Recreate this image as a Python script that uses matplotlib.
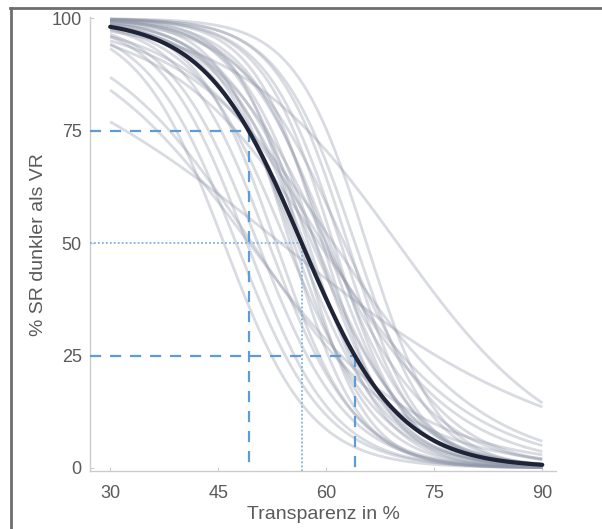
import numpy as np
import matplotlib
matplotlib.use("Agg")
import matplotlib.pyplot as plt
from matplotlib.lines import Line2D

plt.rcParams['font.family'] = ['Liberation Sans', 'DejaVu Sans']

# Individual psychometric fits (midpoint in %, slope scale in %)
subj_mid = [53.7, 49.7, 49.3,
            45.8, 47.5, 49.0, 50.5, 52.0, 53.0,
            54.5, 55.5, 56.0, 57.0, 57.5, 58.0, 58.5,
            55.0, 56.5, 59.5, 58.5, 60.5,
            59.0, 61.0, 59.5,
            60.0, 61.0, 62.0, 63.0, 64.0, 65.6,
            69.9, 60.0, 62.5]
subj_slope = [19.6, 10.4, 11.6,
              6.0, 6.2, 6.0, 6.2, 6.0, 5.5,
              6.5, 5.5, 6.2, 6.0, 5.2, 6.8, 5.5,
              4.8, 4.5, 4.8, 6.5, 6.0,
              10.5, 10.5, 9.3,
              5.5, 5.0, 5.2, 5.0, 5.3, 5.0,
              11.3, 7.5, 7.0]
# Group fit
mean_mid = 56.6
mean_slope = 6.7
thresholds = [75, 50, 25]
x_ticks = [30, 45, 60, 75, 90]
y_ticks = [0, 25, 50, 75, 100]

fig = plt.figure(figsize=(6.02, 5.29), dpi=100)
ax = fig.add_axes([0.1495, 0.1096, 0.774, 0.858])

x = np.linspace(30, 90, 400)

def logistic(xx, m, s):
    return 100.0 / (1.0 + np.exp((xx - m) / s))

for m, s in zip(subj_mid, subj_slope):
    ax.plot(x, logistic(x, m, s), color='#8f96a8', alpha=0.34, lw=2.0,
            solid_capstyle='butt', zorder=2)

xlim = (27.2, 91.9)
ylim = (-0.7, 100.3)

# threshold guide lines
for t in thresholds:
    xt = mean_mid - mean_slope * np.log(t / (100.0 - t))
    if t == 50:
        kw = dict(color='#80b2e2', lw=1.3, ls=(0, (1, 1.2)))
    else:
        kw = dict(color='#5e9cd8', lw=1.6, ls=(0, (5, 4)))
    ax.plot([xlim[0], xt], [t, t], zorder=3, **kw)
    ax.plot([xt, xt], [t, ylim[0]], zorder=3, **kw)

ax.plot(x, logistic(x, mean_mid, mean_slope), color='#1f2438', lw=3.0,
        zorder=4, solid_capstyle='round')

ax.set_xlim(*xlim)
ax.set_ylim(*ylim)
ax.set_xticks(x_ticks)
ax.set_yticks(y_ticks)
for sp in ['top', 'right']:
    ax.spines[sp].set_visible(False)
for sp in ['left', 'bottom']:
    ax.spines[sp].set_color('#cccccc')
    ax.spines[sp].set_linewidth(1.0)
ax.tick_params(direction='in', length=3, color='#cccccc', labelsize=13,
               labelcolor='#5a5a5a')
ax.tick_params(axis='x', pad=10)
ax.tick_params(axis='y', pad=6)
ax.set_xlabel('Transparenz in %', fontsize=14, color='#5a5a5a', labelpad=3)
ax.set_ylabel('% SR dunkler als VR', fontsize=14, color='#5a5a5a', labelpad=3)

# outer frame (partially visible)
fig.add_artist(Line2D([10 / 602, 1.0], [1 - 7.5 / 529, 1 - 7.5 / 529],
                      transform=fig.transFigure, color='#6e6e6e', lw=2.0))
fig.add_artist(Line2D([11 / 602, 11 / 602], [0, 1 - 7.5 / 529],
                      transform=fig.transFigure, color='#6e6e6e', lw=2.0))

fig.savefig('out.png', dpi=100)
